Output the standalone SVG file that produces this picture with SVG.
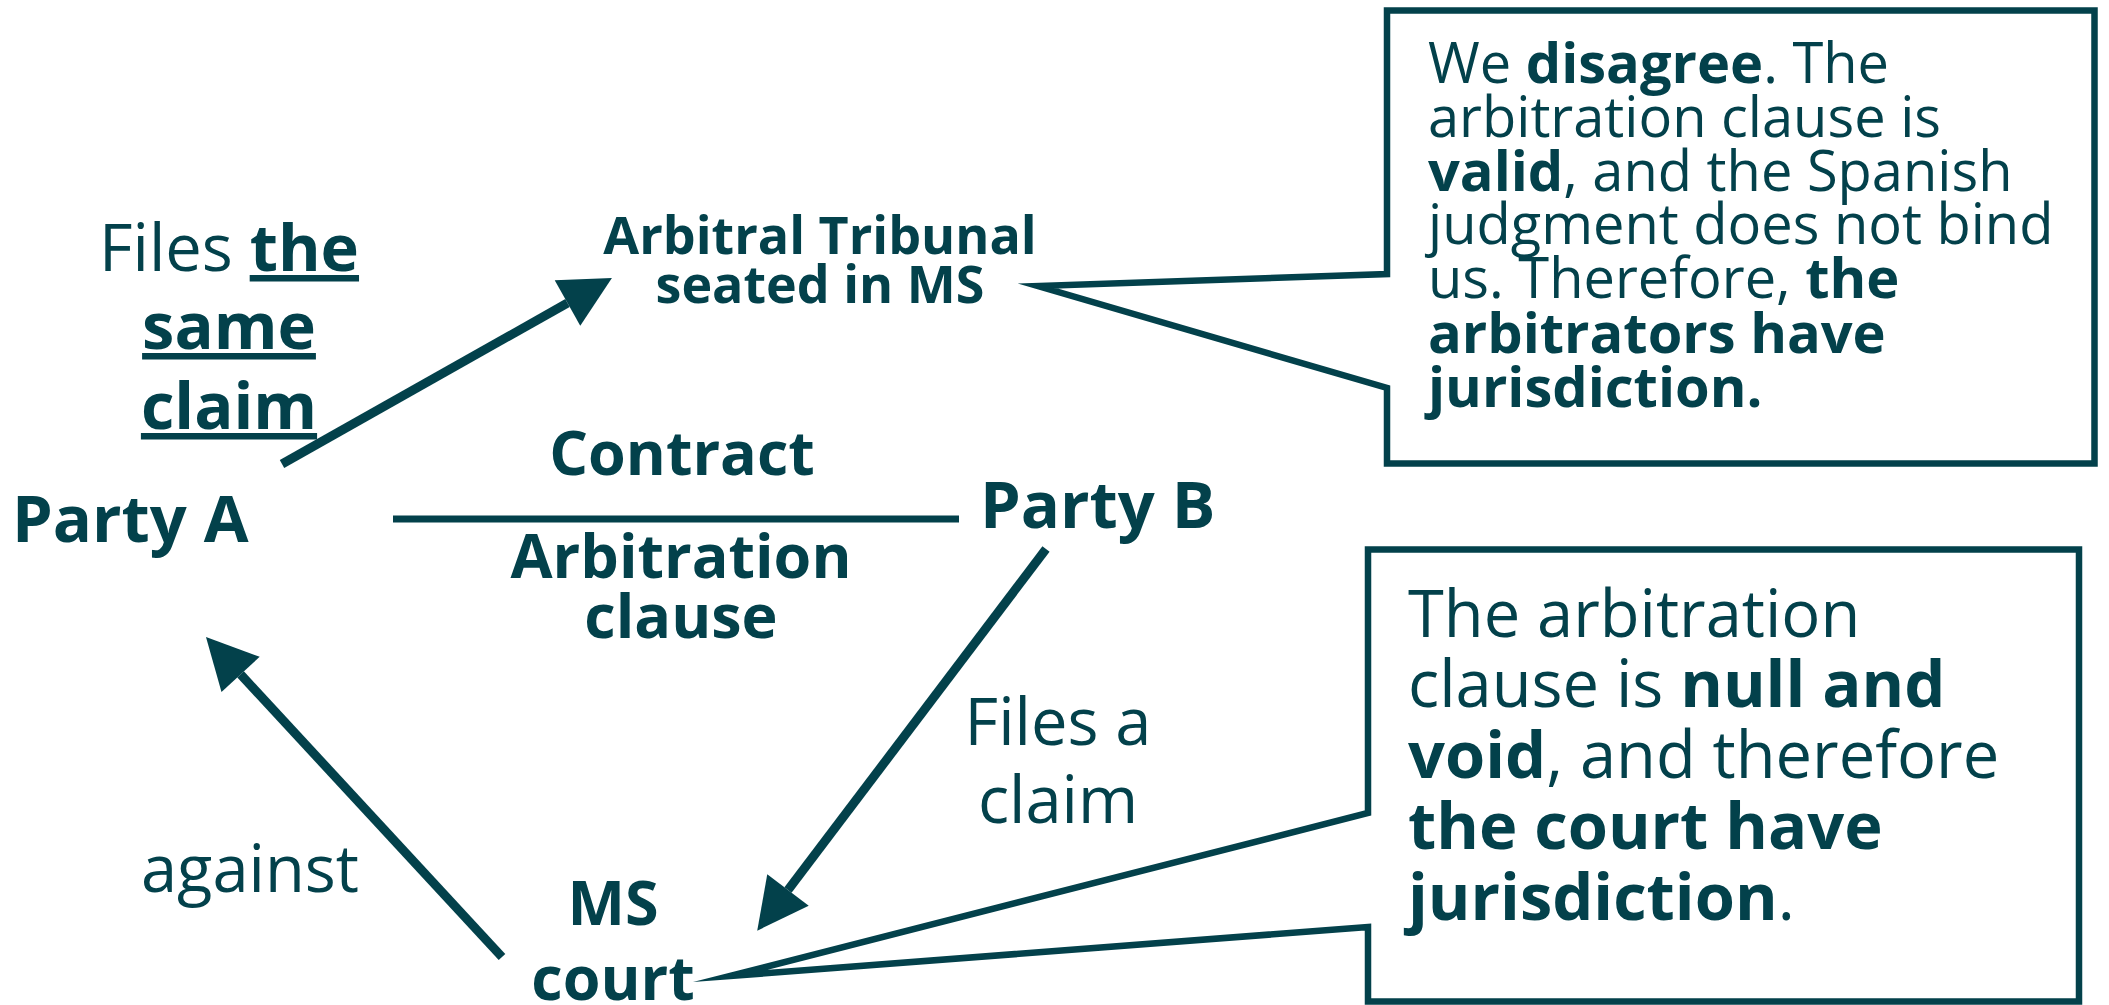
<svg xmlns="http://www.w3.org/2000/svg" width="2109" height="1005" viewBox="0 0 2109 1005">
<style>
text{font-family:"Open Sans","Noto Sans","DejaVu Sans",sans-serif;fill:#03414b}
.b{font-weight:700}
.r{font-weight:400}
.u{text-decoration:underline}
.conn{stroke:#03414b;fill:none;stroke-width:9}
.box{stroke:#03414b;fill:#fff;stroke-width:6.5;stroke-linejoin:miter;stroke-miterlimit:20}
</style>
<defs>
<marker id="ah" markerUnits="userSpaceOnUse" markerWidth="52" markerHeight="52" refX="0" refY="26" orient="auto" overflow="visible">
<path d="M0,0 L51,26 L0,52 Z" fill="#03414b"/>
</marker>
</defs>
<rect width="2109" height="1005" fill="#fff"/>
<g id="connectors">
<path class="conn" d="M282,464 L567.5,303" marker-end="url(#ah)"/>
<path class="conn" d="M1046,549 L788,890" marker-end="url(#ah)"/>
<path class="conn" d="M502,957 L240.6,674.4" marker-end="url(#ah)"/>
<path class="conn" style="stroke-width:7" d="M393,519 H959"/>
</g>
<g id="partyA"><text class="b" x="12" y="542" font-size="65">Party A</text></g>
<g id="partyB"><text class="b" x="980" y="528" font-size="65">Party B</text></g>
<g id="tribunal"><text class="b" font-size="52" text-anchor="middle"><tspan x="820" y="254">Arbitral Tribunal</tspan><tspan x="820" y="303">seated in MS</tspan></text></g>
<g id="court"><text class="b" font-size="61" text-anchor="middle"><tspan x="613" y="925">MS</tspan><tspan x="613" y="1000">court</tspan></text></g>
<g id="contract-label"><text class="b" font-size="61" text-anchor="middle" x="682" y="475">Contract</text></g>
<g id="clause-label"><text class="b" font-size="61" text-anchor="middle"><tspan x="681" y="578">Arbitration</tspan><tspan x="681" y="638">clause</tspan></text></g>
<g id="label-same-claim"><text class="r" font-size="65" text-anchor="middle"><tspan x="229" y="271">Files <tspan class="b u">the</tspan></tspan><tspan x="229" y="349" class="b u">same</tspan><tspan x="229" y="429" class="b u">claim</tspan></text></g>
<g id="label-files-claim"><text class="r" font-size="65" text-anchor="middle"><tspan x="1058" y="745">Files a</tspan><tspan x="1058" y="823">claim</tspan></text></g>
<g id="label-against"><text class="r" font-size="65" x="141" y="892">against</text></g>
<g id="callout-tribunal">
<path class="box" d="M1387,274 L1387,10.5 L2094.5,10.5 L2094.5,463.5 L1387,463.5 L1387,388 L1038,286 Z"/>
<text class="r" font-size="56"><tspan x="1428" y="83">We <tspan class="b">disagree</tspan>. The</tspan><tspan x="1428" y="137">arbitration clause is</tspan><tspan x="1428" y="191"><tspan class="b">valid</tspan>, and the Spanish</tspan><tspan x="1428" y="244">judgment does not bind</tspan><tspan x="1428" y="298">us. Therefore, <tspan class="b">the</tspan></tspan><tspan x="1428" y="353" class="b">arbitrators have</tspan><tspan x="1428" y="407" class="b">jurisdiction.</tspan></text>
</g>
<g id="callout-court">
<path class="box" d="M1368,813 L1368,549.5 L2079,549.5 L2079,1001.5 L1368,1001.5 L1368,927 L730,976 Z"/>
<text class="r" font-size="65"><tspan x="1408" y="637">The arbitration</tspan><tspan x="1408" y="707">clause is <tspan class="b">null and</tspan></tspan><tspan x="1408" y="778"><tspan class="b">void</tspan>, and therefore</tspan><tspan x="1408" y="849" class="b">the court have</tspan><tspan x="1408" y="920"><tspan class="b">jurisdiction</tspan>.</tspan></text>
</g>
</svg>
